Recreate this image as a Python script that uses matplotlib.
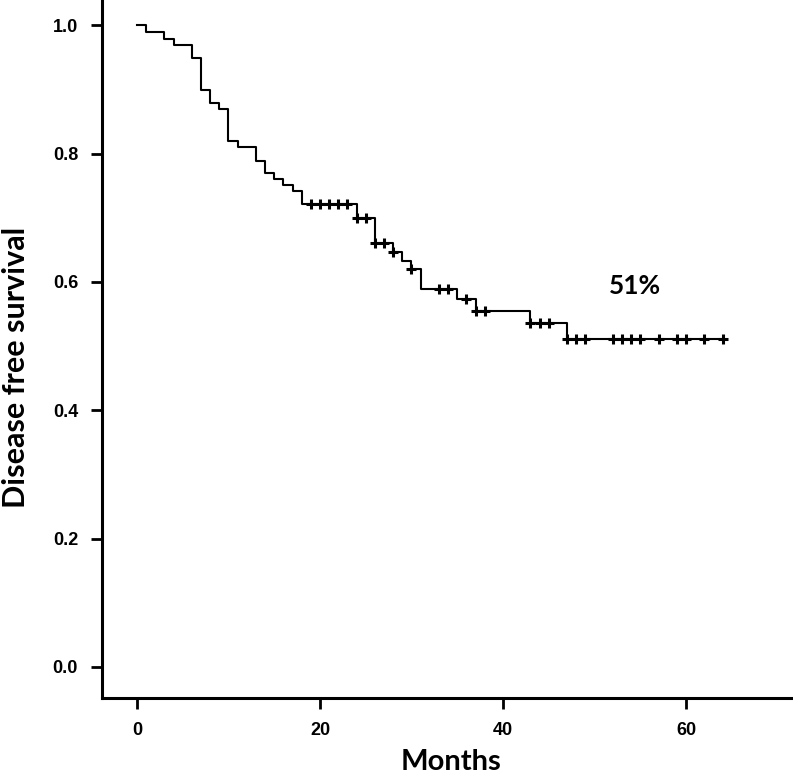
import matplotlib
matplotlib.use("Agg")
import matplotlib.pyplot as plt
import numpy as np

# Kaplan-Meier step levels (event times in months, survival after the drop)
event_months = [0, 1, 3, 4, 6, 7, 8, 9, 10, 11, 13, 14, 15, 16, 17, 18,
                24, 26, 28, 29, 30, 31, 35, 37, 43, 47]
survival = [1.0, 0.989, 0.979, 0.970, 0.949, 0.899, 0.879, 0.870, 0.820,
            0.810, 0.789, 0.770, 0.760, 0.751, 0.741, 0.721, 0.699, 0.661,
            0.647, 0.633, 0.620, 0.589, 0.573, 0.554, 0.536, 0.511]
# censored patients
censor_months = [19, 20, 21, 22, 23, 24, 25, 26, 27, 28, 30, 33, 34, 36,
                 37, 38, 43, 44, 45, 47, 48, 49, 52, 53, 54, 55, 57, 59,
                 60, 62, 64]
last_followup = 64.2

x_ticks = [0, 20, 40, 60]
y_ticks = [0.0, 0.2, 0.4, 0.6, 0.8, 1.0]

fig = plt.figure(figsize=(7.93, 7.75), dpi=100)
ax = fig.add_axes([0.1282, 0.0994, 0.8718, 0.9006])

t = event_months + [last_followup]
s = survival + [survival[-1]]
ax.step(t, s, where="post", color="black", lw=1.5)

idx = np.searchsorted(event_months, censor_months, side="right") - 1
cens_s = np.array(survival)[idx]
ax.plot(censor_months, cens_s, "+", color="black", ms=7.5, mew=2.2)

ax.text(54.4, 0.593, "51%", fontsize=19, fontweight="bold",
        family=["Lato", "DejaVu Sans"], ha="center", va="center")

ax.set_xlim(-3.86, 71.7)
ax.set_ylim(-0.0483, 1.0394)
ax.set_xticks(x_ticks)
ax.set_xticklabels([str(v) for v in x_ticks])
ax.set_yticks(y_ticks)
ax.set_yticklabels(["%.1f" % v for v in y_ticks])

for lab in ax.get_xticklabels() + ax.get_yticklabels():
    lab.set_family(["Liberation Sans", "DejaVu Sans"])
    lab.set_fontweight("bold")
    lab.set_fontsize(13)

ax.tick_params(axis="both", width=2, length=8, pad=9)
ax.spines["top"].set_visible(False)
ax.spines["right"].set_visible(False)
ax.spines["left"].set_linewidth(2.2)
ax.spines["bottom"].set_linewidth(2.2)

ax.set_xlabel("Months", fontsize=21, fontweight="bold",
              family=["Lato", "DejaVu Sans"])
ax.set_ylabel("Disease free survival", fontsize=22, fontweight="bold",
              family=["Lato", "DejaVu Sans"])
ax.xaxis.set_label_coords(0.505, -0.073)
ax.yaxis.set_label_coords(-0.104, 0.473)

fig.savefig("out.png", dpi=100)
